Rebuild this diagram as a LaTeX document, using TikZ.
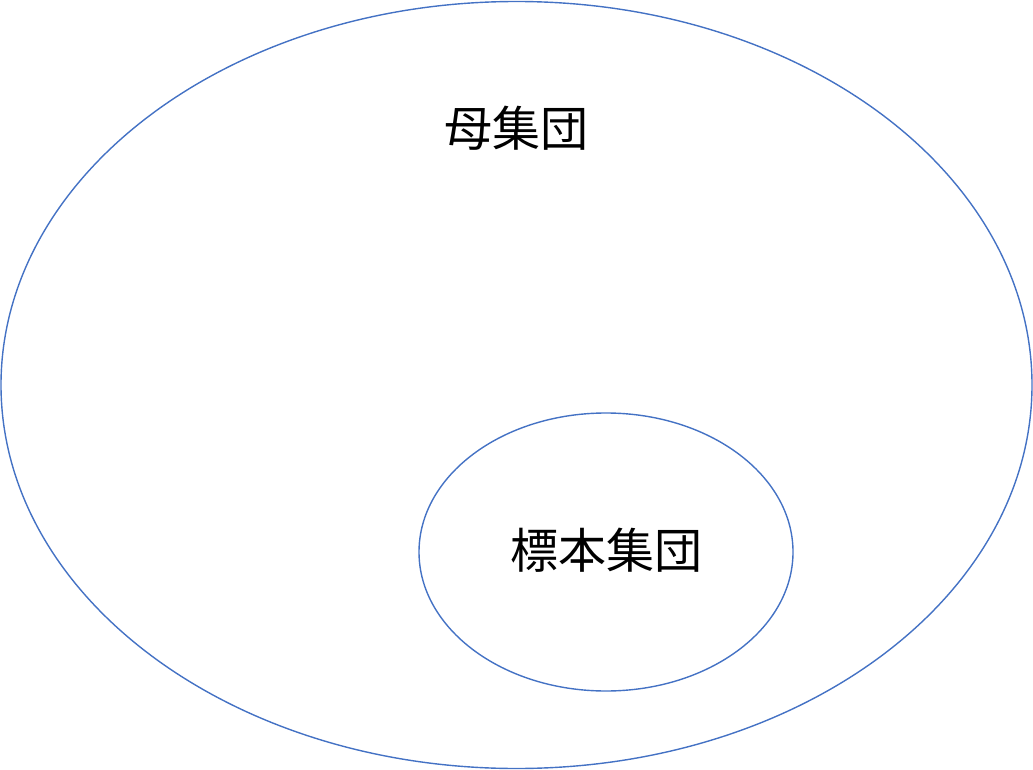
\documentclass[tikz,border=0pt]{standalone}
\usepackage{fontspec}
\newfontfamily\cjk{Noto Sans CJK JP}
\definecolor{setblue}{RGB}{68,114,196}
\tikzset{
  setline/.style={draw=setblue, line width=1.4pt},
  setlabel/.style={font=\cjk\fontsize{48}{52}\selectfont, inner sep=0pt}
}
\begin{document}
\begin{tikzpicture}[x=1pt, y=-1pt]
    \useasboundingbox (0,0) rectangle (1033,770);
    % Mutter- und Stichprobenmenge
    \draw[setline] (516.5,385) ellipse [x radius=515.5, y radius=383.5];
    \draw[setline] (606,552) ellipse [x radius=187, y radius=139];
    % Beschriftungen
    \node[setlabel] (popu) at (516,128) {母集団};
    \node[setlabel] (samp) at (606,550) {標本集団};
\end{tikzpicture}
\end{document}
